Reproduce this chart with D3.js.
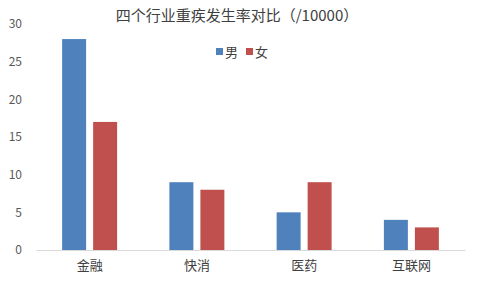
<!DOCTYPE html>
<html><head><meta charset="utf-8">
<script src="https://cdn.jsdelivr.net/npm/d3@7"></script>
<style>body{margin:0;background:#fff;}svg{display:block;font-family:"Noto Sans CJK SC","Noto Sans",sans-serif;}</style>
</head><body>
<script>
const categories = ["金融","快消","医药","互联网"];
const seriesNames = ["男","女"];
const male = [28, 9, 5, 4];
const female = [17, 8, 9, 3];
const yTicks = [0,5,10,15,20,25,30];
const colors = ["#4F81BD","#C0504D"];

const W=480,H=288;
const svg=d3.select("body").append("svg").attr("width",W).attr("height",H);
const x=d3.scaleBand().domain(categories).range([36,465]);
const xs=d3.scaleBand().domain(seriesNames).range([0,x.bandwidth()]).paddingInner(0.226).paddingOuter(0.843);
const y=d3.scaleLinear().domain([0,30]).range([250,24]);

svg.append("g").selectAll("text").data(yTicks).join("text")
 .attr("x",22).attr("y",d=>y(d)).attr("dy","0.36em").attr("text-anchor","end")
 .attr("font-size",12).attr("fill","#595959").text(d=>d);

const data=[male,female];
seriesNames.forEach((s,i)=>{
  svg.append("g").selectAll("rect").data(categories).join("rect")
   .attr("x",c=>x(c)+xs(s)).attr("width",xs.bandwidth())
   .attr("y",(c,j)=>y(data[i][j])).attr("height",(c,j)=>y(0)-y(data[i][j]))
   .attr("fill",colors[i]);
});

const xAxis=svg.append("g").attr("transform","translate(0,250)").call(d3.axisBottom(x).tickSize(0).tickPadding(11));
xAxis.select(".domain").attr("stroke","#D9D9D9");
xAxis.selectAll("text").attr("font-size",13).attr("fill","#404040").attr("font-family","Noto Sans CJK SC");

svg.append("text").attr("x",237).attr("y",21).attr("text-anchor","middle").attr("font-size",15).attr("fill","#404040").text("四个行业重疾发生率对比（/10000）");

const lg=svg.append("g");
seriesNames.forEach((s,i)=>{
  const lx=216+i*30;
  lg.append("rect").attr("x",lx).attr("y",48).attr("width",7).attr("height",7).attr("fill",colors[i]);
  lg.append("text").attr("x",lx+9).attr("y",52).attr("dy","0.36em").attr("font-size",13).attr("fill","#404040").text(s);
});
</script>
</body></html>
